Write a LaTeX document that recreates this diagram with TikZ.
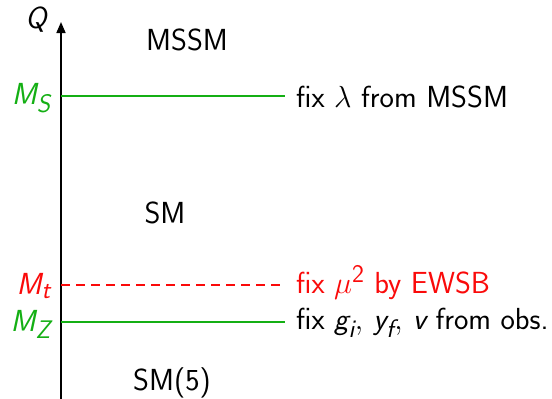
\RequirePackage{fix-cm}
\documentclass[tikz,border=0pt]{standalone}
\usepackage{amsmath}
\usetikzlibrary{arrows.meta}
\definecolor{lgreen}{RGB}{20,175,20}
\definecolor{lred}{RGB}{250,10,10}
\newcommand{\mi}[1]{\textsf{\itshape #1}}
\newcommand{\T}[1]{\scalebox{1.225}{#1}}
\begin{document}
\begin{tikzpicture}[x=1pt,y=-1pt,
  every node/.style={font=\sffamily\Huge, inner sep=0pt},
  scale line/.style={line width=1.6pt},
  lefttxt/.style={anchor=east},
  righttxt/.style={anchor=west}]
\useasboundingbox (0,0) rectangle (552,399);
\coordinate (bot) at (61,399);
\coordinate (top) at (61,22);
\draw[line width=1.6pt,-{Triangle[length=11pt,width=9pt]}] (bot) -- (top);
\node (Q) at (37,20) {\T{\mi{Q}}};
% M_S
\node[lefttxt,text=lgreen] (MS) at (51,98) {\T{$\mi{M}_{\mi{S}}$}};
\coordinate (MSa) at (61,96);
\coordinate (MSb) at (285,96);
\draw[scale line,lgreen] (MSa) -- (MSb);
\node[righttxt] (fixl) at (296,97) {\T{fix $\lambda$ from MSSM}};
% M_t
\node[lefttxt,text=lred] (Mt) at (51,286) {\T{$\mi{M}_{\mi{t}}$}};
\coordinate (Mta) at (61,285);
\coordinate (Mtb) at (285,285);
\draw[scale line,lred,dash pattern=on 9pt off 6pt] (Mta) -- (Mtb);
\node[righttxt,text=lred] (fixm) at (296,283) {\T{fix $\mu^{\textsf{2}}$ by EWSB}};
% M_Z
\node[lefttxt,text=lgreen] (MZ) at (51,324) {\T{$\mi{M}_{\mi{Z}}$}};
\coordinate (MZa) at (61,322);
\coordinate (MZb) at (285,322);
\draw[scale line,lgreen] (MZa) -- (MZb);
\node[righttxt] (fixg) at (296,323) {\T{fix $\mi{g}_{\mi{i}},\, \mi{y}_{\mi{f}},\, \mi{v}$ from obs.}};
% regions
\node (mssm) at (187,40) {\T{MSSM}};
\node (sm) at (165,213) {\T{SM}};
\node (sm5) at (172,383) {\T{SM(5)}};
\end{tikzpicture}
\end{document}
